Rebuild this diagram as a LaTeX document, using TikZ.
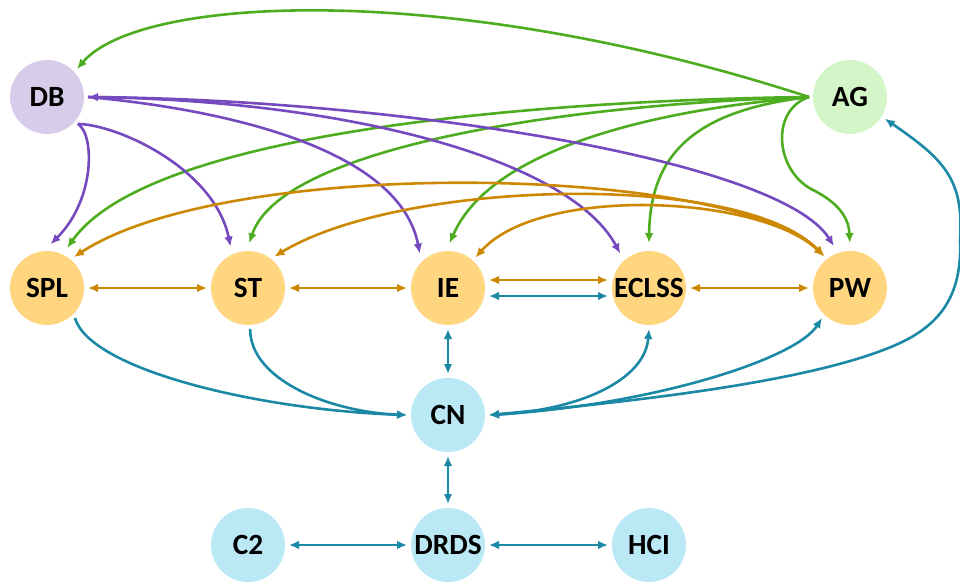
\documentclass[tikz,border=0pt]{standalone}
\usepackage{fontspec}
\setmainfont{Carlito}
\usetikzlibrary{arrows.meta}
\definecolor{ornode}{HTML}{FFD67F}
\definecolor{dbnode}{HTML}{D7CCEA}
\definecolor{agnode}{HTML}{D4F5C8}
\definecolor{blnode}{HTML}{BBE8F5}
\definecolor{orline}{HTML}{CC8800}
\definecolor{grline}{HTML}{4EAC20}
\definecolor{puline}{HTML}{754ABE}
\definecolor{teline}{HTML}{1B89A6}
\begin{document}
\begin{tikzpicture}[x=0.75pt,y=-0.75pt,
  nd/.style={circle, minimum size=55.5pt, inner sep=0pt, outer sep=3pt,
    font=\fontsize{22}{22}\selectfont\bfseries},
  >={Latex[length=7.5pt,width=6.5pt]},
  lk/.style={line width=1.95pt},
  gr/.style={lk, draw=grline},
  pu/.style={lk, draw=puline},
  orr/.style={lk, draw=orline},
  te/.style={lk, draw=teline},
  gapend/.style={shorten >=3pt}]
\useasboundingbox (0,0) rectangle (960,583);

% nodes
\node[nd, fill=dbnode] (DB) at (47,97) {DB};
\node[nd, fill=agnode] (AG) at (850,97) {AG};
\node[nd, fill=ornode] (SPL) at (47,288) {SPL};
\node[nd, fill=ornode] (ST) at (248,288) {ST};
\node[nd, fill=ornode] (IE) at (448,288) {IE};
\node[nd, fill=ornode] (ECLSS) at (649,288) {ECLSS};
\node[nd, fill=ornode] (PW) at (850,288) {PW};
\node[nd, fill=blnode] (CN) at (448,415) {CN};
\node[nd, fill=blnode] (C2) at (248,545) {C2};
\node[nd, fill=blnode] (DRDS) at (448,545) {DRDS};
\node[nd, fill=blnode] (HCI) at (649,545) {HCI};

% green (AG)
\draw[gr,->] (AG.west) .. controls (450,-20) and (140,-5) .. (DB.43);
\draw[gr,->,gapend] (AG.west) .. controls (550,100) and (150,130) .. (SPL.64);
\draw[gr,->,gapend] (AG.west) .. controls (550,105) and (280,150) .. (ST.90);
\draw[gr,->,gapend] (AG.west) .. controls (650,110) and (490,150) .. (IE.90);
\draw[gr,->,gapend] (AG.west) .. controls (700,110) and (650,150) .. (ECLSS.90);
\draw[gr,->,gapend] (AG.west) .. controls (770,110) and (775,171) .. (813,190)
  .. controls (843,205) and (849,222) .. (PW.90);

% purple (DB)
\draw[pu,<->,gapend] (DB.east) .. controls (400,100) and (780,160) .. (PW.110);
\draw[pu,->,gapend] (DB.east) .. controls (350,100) and (570,160) .. (ECLSS.131);
\draw[pu,->,gapend] (DB.east) .. controls (230,110) and (400,150) .. (IE.132);
\draw[pu,->,gapend] (DB.-41) .. controls (95,135) and (95,200) .. (SPL.89);
\draw[pu,->,gapend] (DB.-41) .. controls (120,125) and (215,170) .. (ST.114);

% orange
\draw[orr,<->] (PW.129) .. controls (730,165) and (230,155) .. (SPL.49);
\draw[orr,<->] (PW.129) .. controls (740,170) and (400,180) .. (ST.50);
\draw[orr,<->] (PW.129) .. controls (760,195) and (540,185) .. (IE.48);
\draw[orr,<->] (SPL.east) -- (ST.west);
\draw[orr,<->] (ST.east) -- (IE.west);
\draw[orr,<->] ([yshift=6pt]IE.east) -- ([yshift=6pt]ECLSS.west);
\draw[orr,<->] (ECLSS.east) -- (PW.west);

% teal
\draw[te,->] (SPL.-47) .. controls (90,370) and (260,410) .. (CN.west);
\draw[te,->] (ST.-87) .. controls (250,380) and (330,412) .. (CN.west);
\draw[te,<->] (IE.south) -- (CN.north);
\draw[te,<->] ([yshift=-6pt]IE.east) -- ([yshift=-6pt]ECLSS.west);
\draw[te,<->] (CN.east) .. controls (580,410) and (645,380) .. (ECLSS.-90);
\draw[te,<->] (CN.east) .. controls (650,405) and (795,360) .. (PW.-133);
\draw[te,<->] (CN.east) .. controls (650,400) and (820,380) .. (900,343)
  .. controls (945,322) and (962,290) .. (960,240)
  .. controls (964,180) and (945,160) .. (AG.-32);
\draw[te,<->] (CN.south) -- (DRDS.north);
\draw[te,<->] (C2.east) -- (DRDS.west);
\draw[te,<->] (DRDS.east) -- (HCI.west);
\end{tikzpicture}
\end{document}
